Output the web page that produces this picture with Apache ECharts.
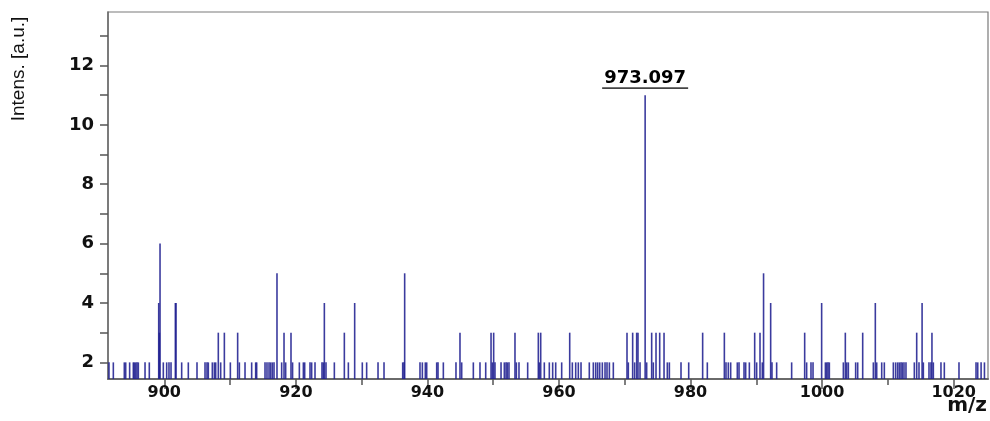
<!DOCTYPE html>
<html>
<head>
<meta charset="utf-8">
<script src="https://cdn.jsdelivr.net/npm/echarts@6/dist/echarts.min.js"></script>
<style>
html,body{margin:0;padding:0;background:#fff;}
#chart{width:990px;height:421px;}
</style>
</head>
<body>
<div id="chart"></div>
<script>
// ---- data (m/z positions grouped by intensity) ----
const mzIntens2 = [891.59, 892.25, 893.92, 894.13, 894.73, 895.29, 895.44, 895.65, 895.85, 896.05, 897.07, 897.72,
  899.85, 900.36, 900.71, 901.02, 902.64, 903.65, 904.97, 906.19, 906.49, 906.69, 907.30, 907.61, 907.81, 908.57,
  910.04, 911.41, 912.27, 913.28, 913.89, 914.04, 915.31, 915.61, 915.92, 916.17, 916.42, 916.68, 917.84, 918.45,
  919.5, 920.53, 921.14, 921.34, 922.15, 922.40, 922.91, 923.97, 924.18, 924.58, 925.85, 927.98, 930.10, 930.76,
  932.49, 933.40, 936.24, 936.44, 938.87, 939.23, 939.68, 939.89, 941.41, 941.61, 942.42, 944.34, 945.21, 946.98,
  947.99, 948.86, 949.87, 950.27, 951.19, 951.69, 951.95, 952.15, 952.40, 953.52, 953.92, 955.24, 957.01, 957.77,
  958.53, 959.04, 959.50, 960.41, 962.03, 962.54, 962.94, 963.35, 964.61, 965.22, 965.58, 965.88, 966.19, 966.59,
  967.00, 967.30, 967.66, 968.26, 970.54, 971.50, 972.32, 973.33, 974.34, 976.47, 976.78, 978.55, 979.72, 982.55,
  985.39, 985.74, 986.10, 987.11, 987.37, 988.13, 988.38, 988.94, 990.05, 990.91, 992.38, 993.09, 995.37, 997.65,
  998.31, 998.62, 1000.5, 1000.7, 1000.9, 1001.1, 1003.23, 1003.74, 1003.99, 1005.10, 1005.41, 1007.79, 1008.30,
  1009.06, 1009.46, 1010.83, 1011.18, 1011.49, 1011.74, 1011.99, 1012.20, 1012.45, 1012.75, 1014.02, 1014.73,
  1015.39, 1016.25, 1016.55, 1016.91, 1018.07, 1018.58, 1020.81, 1023.40, 1023.66, 1024.17, 1024.68];
const mzIntens3 = [899.25, 908.21, 909.13, 911.15, 918.20, 919.26, 927.37, 944.95, 949.67, 950.07, 953.31, 956.86,
  957.22, 961.63, 970.34, 971.20, 971.81, 972.01, 974.09, 974.75, 975.31, 975.97, 981.84, 985.14, 989.75, 990.56,
  997.35, 1003.53, 1006.17, 1014.38, 1016.70];
const mzIntens4 = [899.15, 901.68, 901.78, 924.33, 928.94, 992.18, 999.93, 1008.09, 1015.20];
const mzIntens5 = [917.13, 936.54, 991.10];
const mzIntens6 = [899.35];
const mzIntens11 = [973.097];

const xLabelTicks = [900, 920, 940, 960, 980, 1000, 1020];
const xMinorTicks = [910, 930, 950, 970, 990, 1010];
const yLabelTicks = [2, 4, 6, 8, 10, 12];
const yAllTicks = [2, 3, 4, 5, 6, 7, 8, 9, 10, 11, 12, 13];

const X_MIN = 891.44, X_MAX = 1025.22;
const Y_MIN = 1.44, Y_MAX = 13.8;

// ---- build spectrum ----
const groups = [[2, mzIntens2], [3, mzIntens3], [4, mzIntens4], [5, mzIntens5], [6, mzIntens6], [11, mzIntens11]];
const spectrum = [];
groups.forEach(([h, arr]) => arr.forEach(m => spectrum.push([m, h])));
spectrum.sort((a, b) => a[0] - b[0]);
let peak = spectrum[0];
spectrum.forEach(p => { if (p[1] > peak[1]) peak = p; });

const FONT = 'DejaVu Sans';
const chart = echarts.init(document.getElementById('chart'), null, {renderer: 'canvas'});
chart.setOption({
  animation: false,
  backgroundColor: '#ffffff',
  grid: {left: 108, right: 2, top: 12, bottom: 42, show: true, borderColor: '#7a7a7a', borderWidth: 1.2},
  xAxis: [{
    type: 'value', min: X_MIN, max: X_MAX, position: 'bottom',
    axisLine: {show: true, lineStyle: {color: '#6a6a6a', width: 2}},
    axisTick: {show: true, customValues: xLabelTicks, length: 10, lineStyle: {color: '#555', width: 1.5}},
    axisLabel: {customValues: xLabelTicks, margin: 6, fontFamily: FONT, fontWeight: 'bold', fontSize: 16, color: '#111',
      formatter: function (v) { return String(v); }},
    splitLine: {show: false}
  }, {
    type: 'value', min: X_MIN, max: X_MAX, position: 'bottom',
    axisLine: {show: false},
    axisTick: {show: true, customValues: xMinorTicks, length: 6, lineStyle: {color: '#555', width: 1.5}},
    axisLabel: {show: false},
    splitLine: {show: false}
  }],
  yAxis: {
    type: 'value', min: Y_MIN, max: Y_MAX,
    axisLine: {show: true, lineStyle: {color: '#6a6a6a', width: 1.5}},
    axisTick: {show: true, customValues: yAllTicks, length: 8, lineStyle: {color: '#555', width: 1.5}},
    axisLabel: {customValues: yLabelTicks, margin: 14, fontFamily: FONT, fontWeight: 'bold', fontSize: 18, color: '#111',
      formatter: function (v) { return String(v); }},
    splitLine: {show: false}
  },
  series: [{
    type: 'custom',
    data: spectrum,
    clip: true,
    renderItem: function (params, api) {
      const top = api.coord([api.value(0), api.value(1)]);
      const base = api.coord([api.value(0), Y_MIN]);
      return {
        type: 'line',
        shape: {x1: top[0], y1: base[1], x2: top[0], y2: top[1]},
        style: {stroke: 'rgba(32,32,145,0.88)', lineWidth: 1.6}
      };
    }
  }, {
    type: 'scatter',
    data: [peak],
    symbol: 'rect',
    symbolSize: [86, 1.8],
    symbolOffset: [0, -7],
    itemStyle: {color: '#444', opacity: 1},
    label: {
      show: true, position: 'top', distance: 0,
      formatter: function (p) { return p.value[0].toFixed(3); },
      fontFamily: FONT, fontWeight: 'bold', fontSize: 18, color: '#000'
    }
  }],
  graphic: [{
    type: 'text', x: 19, y: 69, rotation: Math.PI / 2,
    style: {text: 'Intens. [a.u.]', fontFamily: 'Liberation Sans', fontSize: 19, fill: '#111', align: 'center', verticalAlign: 'middle'}
  }, {
    type: 'text', right: 3, top: 396,
    style: {text: 'm/z', fontFamily: FONT, fontWeight: 'bold', fontSize: 20, fill: '#111'}
  }]
});
</script>
</body>
</html>
